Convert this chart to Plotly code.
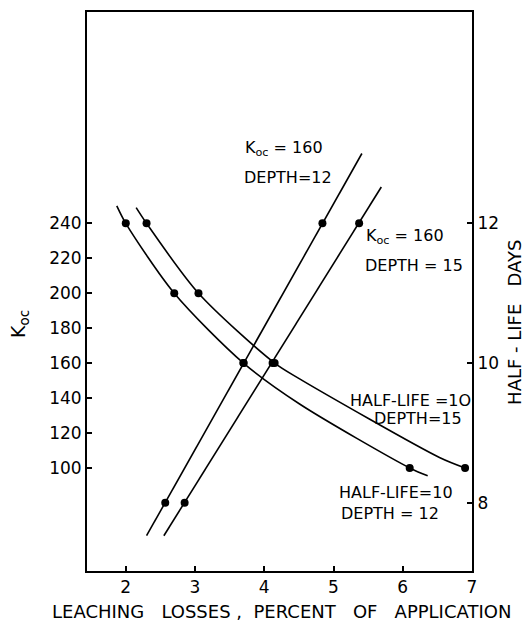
import plotly.graph_objects as go

# Koc versus leaching loss at a fixed half-life of 10 days (left axis)
hl_d12_leach = [2.0, 2.7, 3.7, 6.1]
hl_d12_koc = [240, 200, 160, 100]
hl_d15_leach = [2.3, 3.05, 4.15, 6.9]
hl_d15_koc = [240, 200, 160, 100]

# traced course of the two half-life curves, including their run-out ends
hl_d12_curve_x = [1.87, 2.0, 2.7, 3.7, 4.51, 6.1, 6.36]
hl_d12_curve_y = [250, 240, 200, 160, 136.6, 100, 95.5]
hl_d15_curve_x = [2.15, 2.3, 3.05, 4.15, 4.51, 6.53, 6.9]
hl_d15_curve_y = [249, 240, 200, 160, 151, 106, 100]

# half-life versus leaching loss at a fixed Koc of 160 (right axis)
koc_d12_leach = [2.57, 3.7, 4.84]
koc_d12_days = [8, 10, 12]
koc_d15_leach = [2.85, 4.12, 5.37]
koc_d15_days = [8, 10, 12]

# straight-line fits with their drawn extents
koc_d12_line_x = [2.3, 5.41]
koc_d12_line_y = [7.53, 13.0]
koc_d15_line_x = [2.55, 5.69]
koc_d15_line_y = [7.53, 12.52]

x_ticks = [2, 3, 4, 5, 6, 7]
koc_ticks = [100, 120, 140, 160, 180, 200, 220, 240]
day_ticks = [8, 10, 12]

FONT = "DejaVu Sans"
INK = "black"
W, H = 524, 632
ML, MR, MT, MB = 87, 52, 10, 61

fig = go.Figure()

line_style = dict(color=INK, width=1.6)
dot_style = dict(color=INK, size=8)

fig.add_trace(go.Scatter(x=hl_d12_curve_x, y=hl_d12_curve_y, mode="lines",
                         line=dict(shape="spline", smoothing=0.8, **line_style)))
fig.add_trace(go.Scatter(x=hl_d15_curve_x, y=hl_d15_curve_y, mode="lines",
                         line=dict(shape="spline", smoothing=0.8, **line_style)))
fig.add_trace(go.Scatter(x=hl_d12_leach, y=hl_d12_koc, mode="markers", marker=dot_style))
fig.add_trace(go.Scatter(x=hl_d15_leach, y=hl_d15_koc, mode="markers", marker=dot_style))

fig.add_trace(go.Scatter(x=koc_d12_line_x, y=koc_d12_line_y, mode="lines",
                         line=line_style, yaxis="y2"))
fig.add_trace(go.Scatter(x=koc_d15_line_x, y=koc_d15_line_y, mode="lines",
                         line=line_style, yaxis="y2"))
fig.add_trace(go.Scatter(x=koc_d12_leach, y=koc_d12_days, mode="markers",
                         marker=dot_style, yaxis="y2"))
fig.add_trace(go.Scatter(x=koc_d15_leach, y=koc_d15_days, mode="markers",
                         marker=dot_style, yaxis="y2"))

tick_font = dict(family=FONT, size=17, color=INK)

axis_common = dict(ticks="inside", ticklen=5, tickwidth=1.5, tickcolor=INK,
                   showline=True, linecolor=INK, linewidth=2, showgrid=False,
                   zeroline=False, tickfont=tick_font)

fig.update_layout(
    width=W, height=H,
    margin=dict(l=ML, r=MR, t=MT, b=MB),
    paper_bgcolor="white", plot_bgcolor="white",
    showlegend=False,
    xaxis=dict(range=[1.44, 7.0], tickvals=x_ticks, mirror=True, **axis_common),
    yaxis=dict(range=[41, 361], tickvals=koc_ticks, **axis_common),
    yaxis2=dict(range=[7.025, 15.025], tickvals=day_ticks, overlaying="y",
                side="right", **axis_common),
)

# free-standing labels, positioned in page pixels (centre of each text)
labels = [
    (20, 323, "K<sub>oc</sub>", -90, 19),
    (515, 322, "HALF - LIFE   DAYS", -90, 18),
    (281, 612, "LEACHING   LOSSES ,  PERCENT   OF   APPLICATION", 0, 18),
    (284, 147, "K<sub>oc</sub> = 160", 0, 16),
    (288, 176, "DEPTH=12", 0, 16),
    (405, 235, "K<sub>oc</sub> = 160", 0, 16),
    (414, 264, "DEPTH = 15", 0, 16),
    (410, 400, "HALF-LIFE =1O", 0, 16),
    (418, 418, "DEPTH=15", 0, 16),
    (396, 492, "HALF-LIFE=10", 0, 16),
    (390, 513, "DEPTH = 12", 0, 16),
]
pw, ph = W - ML - MR, H - MT - MB
for px, py, text, angle, size in labels:
    fig.add_annotation(xref="paper", yref="paper", showarrow=False,
                       x=(px - ML) / pw, y=1 - (py - MT) / ph,
                       text=text, textangle=angle,
                       font=dict(family=FONT, size=size, color=INK),
                       xanchor="center", yanchor="middle")

fig.write_html("out.html")
